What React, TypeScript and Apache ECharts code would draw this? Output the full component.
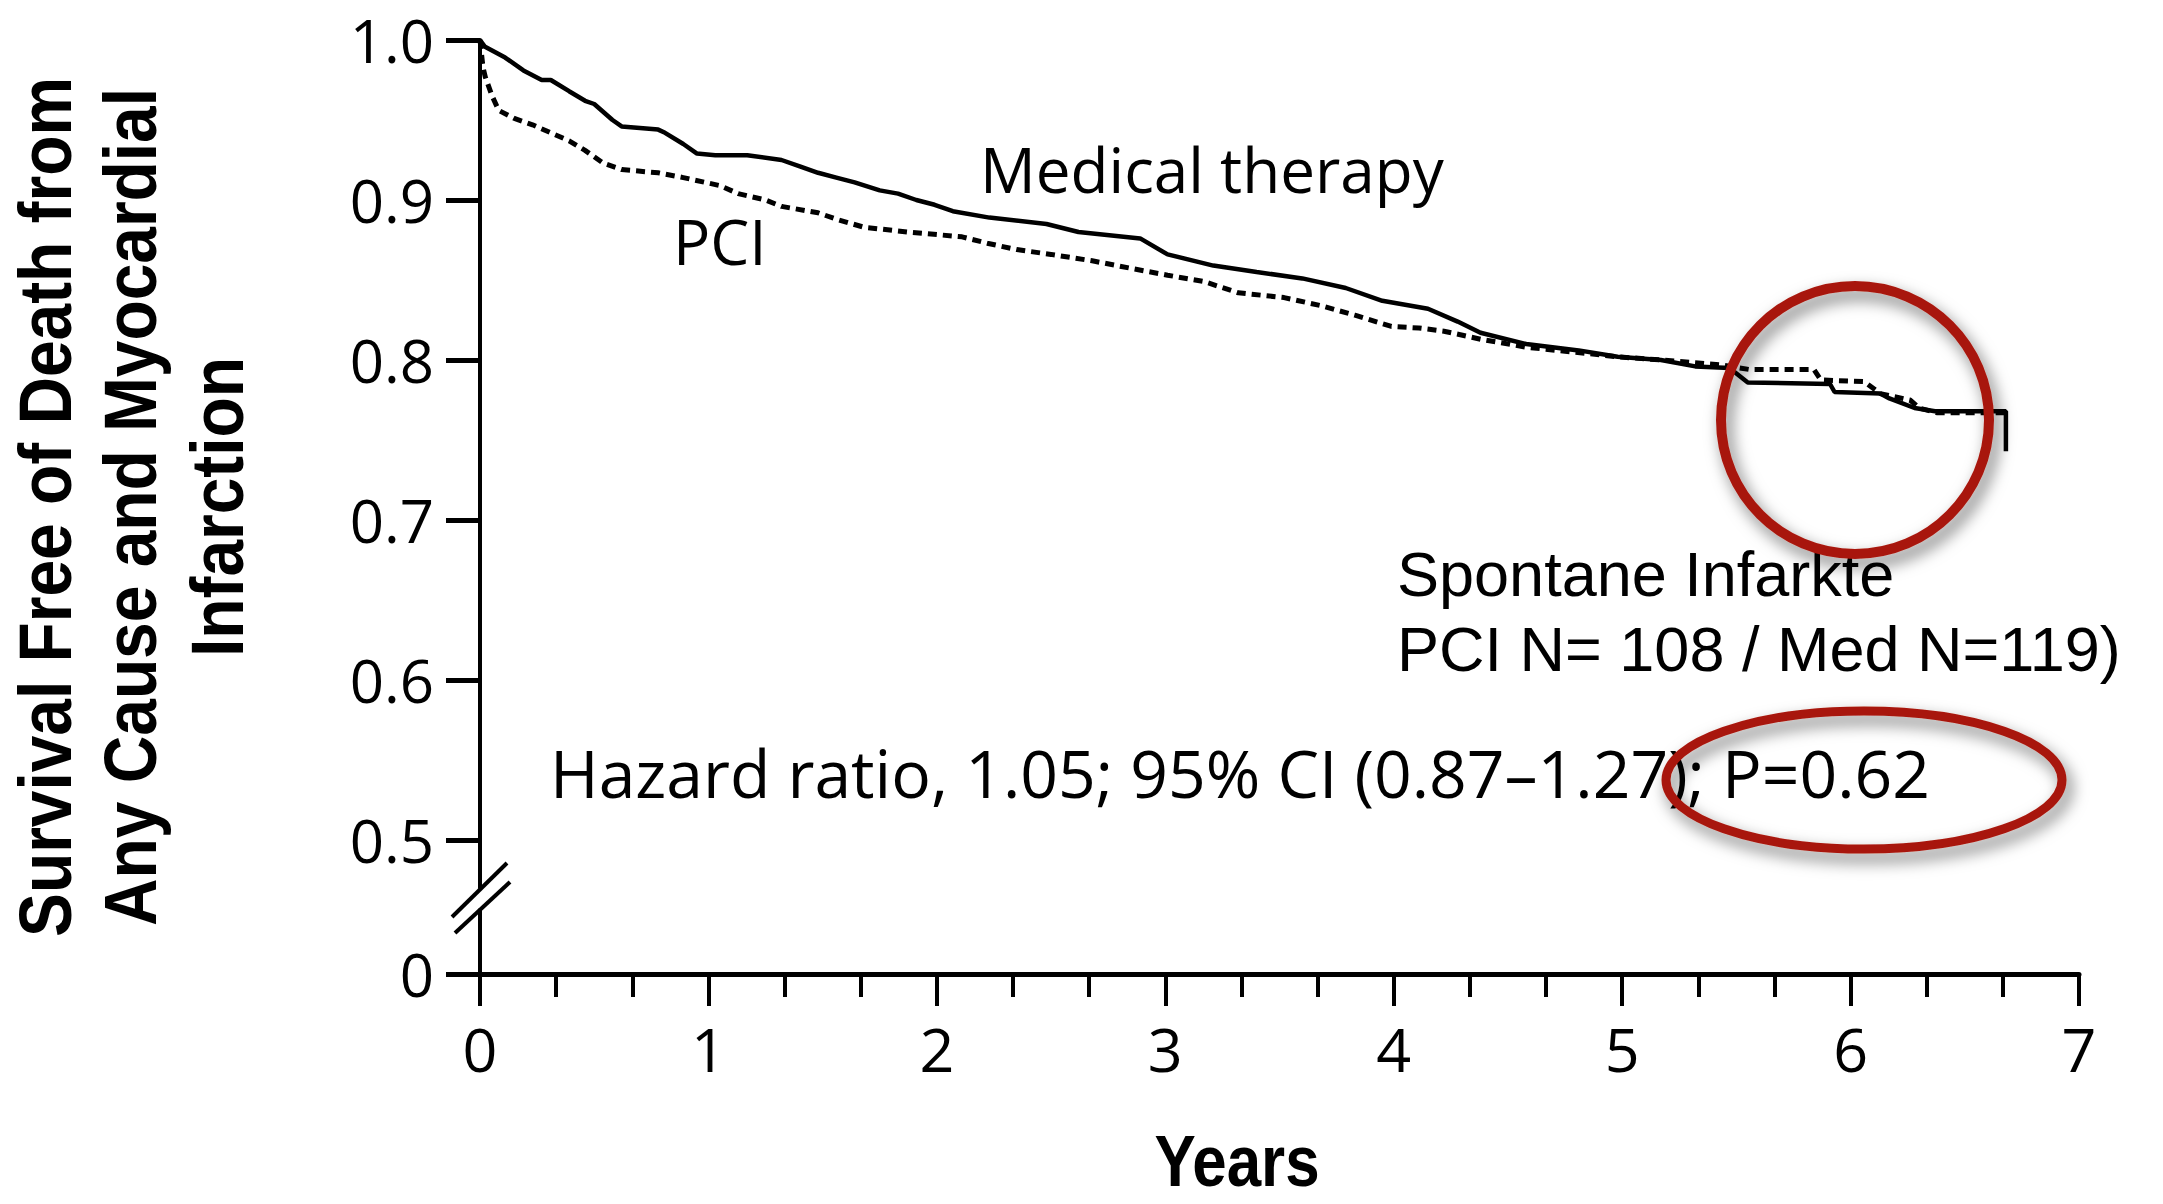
import React, { useEffect, useRef } from "react";
import * as echarts from "echarts";

// ---- Data ----
const medicalYears = [0, 0.02, 0.11, 0.19, 0.27, 0.31, 0.39, 0.46, 0.5, 0.58, 0.62, 0.7, 0.78, 0.81, 0.89, 0.95, 1.03, 1.17, 1.32, 1.4, 1.48, 1.56, 1.64, 1.75, 1.83, 1.91, 1.99, 2.07, 2.23, 2.48, 2.62, 2.89, 3.01, 3.21, 3.4, 3.6, 3.79, 3.95, 4.15, 4.28, 4.38, 4.58, 4.81, 4.98, 5.17, 5.32, 5.47, 5.55, 5.91, 5.93, 6.13, 6.17, 6.28, 6.37, 6.68, 6.68];
const medicalSurvival = [1.0, 0.996, 0.989, 0.981, 0.975, 0.975, 0.968, 0.962, 0.96, 0.95, 0.946, 0.945, 0.944, 0.942, 0.935, 0.929, 0.928, 0.928, 0.925, 0.921, 0.917, 0.914, 0.911, 0.906, 0.904, 0.9, 0.897, 0.893, 0.889, 0.885, 0.88, 0.876, 0.866, 0.859, 0.855, 0.851, 0.845, 0.837, 0.832, 0.824, 0.817, 0.81, 0.806, 0.802, 0.8, 0.796, 0.795, 0.786, 0.785, 0.78, 0.779, 0.776, 0.77, 0.768, 0.768, 0.743];

const pciYears = [0, 0.013, 0.023, 0.053, 0.082, 0.15, 0.23, 0.31, 0.39, 0.46, 0.54, 0.62, 0.78, 0.89, 1.05, 1.13, 1.25, 1.32, 1.48, 1.56, 1.68, 1.87, 2.11, 2.22, 2.35, 2.5, 2.68, 2.86, 3.01, 3.17, 3.32, 3.52, 3.68, 3.83, 3.99, 4.11, 4.22, 4.38, 4.58, 4.85, 4.98, 5.17, 5.43, 5.56, 5.84, 5.87, 6.06, 6.13, 6.26, 6.3, 6.38, 6.68];
const pciSurvival = [1.0, 0.983, 0.977, 0.965, 0.956, 0.951, 0.947, 0.942, 0.937, 0.931, 0.923, 0.919, 0.917, 0.914, 0.909, 0.904, 0.9, 0.896, 0.892, 0.888, 0.883, 0.88, 0.877, 0.873, 0.869, 0.866, 0.862, 0.857, 0.853, 0.849, 0.842, 0.839, 0.834, 0.828, 0.821, 0.82, 0.818, 0.813, 0.808, 0.804, 0.802, 0.8, 0.797, 0.794, 0.794, 0.7875, 0.7865, 0.779, 0.775, 0.77, 0.767, 0.767];

const yTickValues = [0.5, 0.6, 0.7, 0.8, 0.9, 1.0];
const yLowTickValues = [0];
const xMin = 0;
const xMax = 7;

const yTitleLines = ["Survival Free of Death from", "Any Cause and Myocardial", "Infarction"];
const xTitle = "Years";
const medicalLabel = "Medical therapy";
const pciLabel = "PCI";
const hazardText = "Hazard ratio, 1.05; 95% CI (0.87\u20131.27); P=0.62";
const noteLines = ["Spontane Infarkte", "PCI N= 108 / Med N=119)"];

const W = 2163;
const H = 1204;
const RED = "#a8190c";
const HUMAN = "'Open Sans', 'Noto Sans', sans-serif";
const ARIAL = "'Liberation Sans', Arial, sans-serif";

export default function App() {
  const ref = useRef<HTMLDivElement>(null);

  useEffect(() => {
    document.body.style.margin = "0";
    document.body.style.overflow = "hidden";
    if (!ref.current) return;
    const chart = echarts.init(ref.current, undefined, { renderer: "svg", width: W, height: H });

    const medical = medicalYears.map((x, i) => [x, medicalSurvival[i]]);
    const pci = pciYears.map((x, i) => [x, pciSurvival[i]]);

    const shadow = {
      shadowBlur: 16,
      shadowColor: "rgba(0,0,0,0.55)",
      shadowOffsetX: 5,
      shadowOffsetY: 8,
    };

    const option: any = {
      animation: false,
      backgroundColor: "#ffffff",
      grid: [
        { left: 480, top: 40, width: 1599, height: 848 },
        { left: 480, top: 910, width: 1599, height: 64 },
      ],
      xAxis: [
        { gridIndex: 0, type: "value", min: xMin, max: xMax, show: false },
        {
          gridIndex: 1,
          type: "value",
          min: xMin,
          max: xMax,
          interval: 1,
          position: "bottom",
          axisLine: { show: true, onZero: false, lineStyle: { color: "#000", width: 5 } },
          axisTick: { show: true, length: 32, lineStyle: { color: "#000", width: 4 } },
          minorTick: { show: true, splitNumber: 3, length: 23, lineStyle: { color: "#000", width: 4 } },
          axisLabel: { margin: 44, fontSize: 61, fontFamily: HUMAN, color: "#000" },
          splitLine: { show: false },
          minorSplitLine: { show: false },
        },
      ],
      yAxis: [
        {
          gridIndex: 0,
          type: "value",
          min: 0.47,
          max: 1.0,
          axisLine: { show: true, onZero: false, lineStyle: { color: "#000", width: 4 } },
          axisTick: { show: true, length: 34, customValues: yTickValues, lineStyle: { color: "#000", width: 5 } },
          axisLabel: {
            customValues: yTickValues,
            margin: 46,
            fontSize: 60,
            fontFamily: HUMAN,
            color: "#000",
            formatter: (v: number) => v.toFixed(1),
          },
          splitLine: { show: false },
        },
        {
          gridIndex: 1,
          type: "value",
          min: 0,
          max: 0.04,
          axisLine: { show: true, onZero: false, lineStyle: { color: "#000", width: 4 } },
          axisTick: { show: true, length: 34, customValues: yLowTickValues, lineStyle: { color: "#000", width: 5 } },
          axisLabel: {
            customValues: yLowTickValues,
            margin: 46,
            fontSize: 60,
            fontFamily: HUMAN,
            color: "#000",
            formatter: (v: number) => String(v),
          },
          splitLine: { show: false },
        },
      ],
      series: [
        {
          type: "line",
          name: medicalLabel,
          xAxisIndex: 0,
          yAxisIndex: 0,
          data: medical,
          symbol: "none",
          lineStyle: { color: "#000", width: 4.5, type: "solid" },
          z: 3,
        },
        {
          type: "line",
          name: pciLabel,
          xAxisIndex: 0,
          yAxisIndex: 0,
          data: pci,
          symbol: "none",
          lineStyle: { color: "#000", width: 5, type: [9, 6] },
          z: 2,
        },
      ],
      graphic: [
        // axis break marks
        { type: "line", shape: { x1: 452, y1: 917, x2: 507, y2: 863 }, style: { stroke: "#000", lineWidth: 4 } },
        { type: "line", shape: { x1: 455, y1: 933, x2: 510, y2: 882 }, style: { stroke: "#000", lineWidth: 4 } },
        // y axis title
        ...yTitleLines.map((t, i) => ({
          type: "text",
          x: [46, 131, 218][i],
          y: 507,
          rotation: Math.PI / 2,
          scaleX: 0.89,
          style: {
            text: t,
            fontFamily: ARIAL,
            fontWeight: "bold",
            fontSize: 74,
            fill: "#000",
            align: "center",
            verticalAlign: "middle",
          },
        })),
        // x axis title
        {
          type: "text",
          x: 1237,
          y: 1161,
          scaleX: 0.86,
          style: {
            text: xTitle,
            fontFamily: ARIAL,
            fontWeight: "bold",
            fontSize: 72,
            lineHeight: 72,
            fill: "#000",
            align: "center",
            verticalAlign: "middle",
          },
        },
        // curve labels
        {
          type: "text",
          x: 980,
          y: 169,
          style: { text: medicalLabel, fontFamily: HUMAN, fontSize: 62, fill: "#000", align: "left", verticalAlign: "middle" },
        },
        {
          type: "text",
          x: 673,
          y: 241,
          style: { text: pciLabel, fontFamily: HUMAN, fontSize: 62, fill: "#000", align: "left", verticalAlign: "middle" },
        },
        {
          type: "text",
          x: 550,
          y: 772,
          style: { text: hazardText, fontFamily: HUMAN, fontSize: 66, fill: "#000", align: "left", verticalAlign: "middle" },
        },
        ...noteLines.map((t, i) => ({
          type: "text",
          x: 1397,
          y: [574, 649][i],
          style: { text: t, fontFamily: ARIAL, fontSize: 63, fill: "#000", align: "left", verticalAlign: "middle" },
        })),
        // red highlight circles
        {
          type: "ellipse",
          shape: { cx: 1855, cy: 420, rx: 134, ry: 134 },
          style: { fill: "none", stroke: RED, lineWidth: 10, ...shadow },
          z: 10,
        },
        {
          type: "ellipse",
          shape: { cx: 1864, cy: 780, rx: 198, ry: 69 },
          style: { fill: "none", stroke: RED, lineWidth: 9, ...shadow },
          z: 10,
        },
      ],
    };

    chart.setOption(option);
    return () => {
      chart.dispose();
    };
  }, []);

  return (
    <div
      ref={ref}
      style={{ position: "absolute", left: 0, top: 0, width: W, height: H, background: "#fff" }}
    />
  );
}
